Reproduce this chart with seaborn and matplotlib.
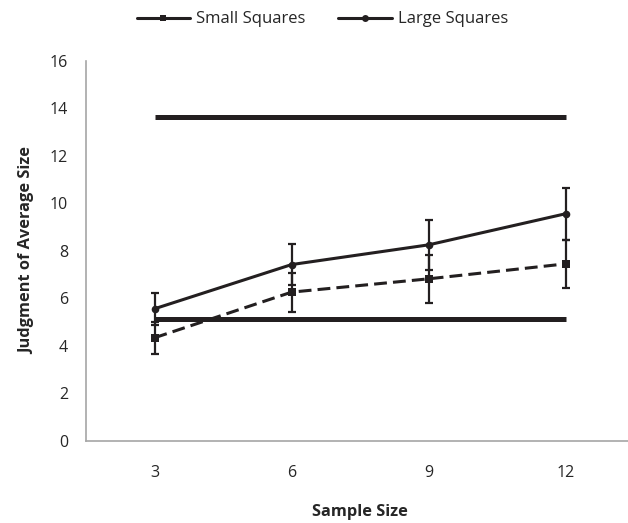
import numpy as np
import pandas as pd
import matplotlib
matplotlib.use("Agg")
import matplotlib.pyplot as plt
from matplotlib.lines import Line2D
import seaborn as sns

# dados
tamanhos = [3, 6, 9, 12]
media_pequenos = [4.34, 6.26, 6.82, 7.45]
erro_pequenos = [0.68, 0.82, 1.00, 1.01]
media_grandes = [5.56, 7.42, 8.25, 9.56]
erro_grandes = [0.67, 0.86, 1.05, 1.09]
linha_pequenos = 5.14
linha_grandes = 13.65
rotulos_y = [0, 2, 4, 6, 8, 10, 12, 14, 16]

df = pd.DataFrame({
    "tamanho": tamanhos * 2,
    "media": media_pequenos + media_grandes,
    "grupo": ["Small Squares"] * 4 + ["Large Squares"] * 4,
})

sns.set_style("white")
plt.rcParams["font.family"] = ["Open Sans", "DejaVu Sans"]
preto = "#231f20"
cinza = "#a6a6a6"

fig = plt.figure(figsize=(6.28, 5.23), dpi=100)
ax = fig.add_axes([0.137, 0.157, 0.873, 0.727])

# linhas horizontais de referência
ax.hlines([linha_grandes, linha_pequenos], tamanhos[0], tamanhos[-1],
          color=preto, lw=3.6, zorder=2)

sns.lineplot(data=df, x="tamanho", y="media", hue="grupo", style="grupo",
             markers={"Small Squares": "s", "Large Squares": "o"},
             dashes={"Small Squares": (4.2, 2.0), "Large Squares": ""},
             palette={"Small Squares": preto, "Large Squares": preto},
             markersize=5.5, markeredgewidth=0, linewidth=2.2,
             legend=False, ax=ax, zorder=3)

ax.errorbar(tamanhos, media_pequenos, yerr=erro_pequenos, fmt="none",
            ecolor=preto, elinewidth=1.6, capsize=3.2, capthick=1.6, zorder=4)
ax.errorbar(tamanhos, media_grandes, yerr=erro_grandes, fmt="none",
            ecolor=preto, elinewidth=1.6, capsize=3.2, capthick=1.6, zorder=4)

ax.set_xlim(1.5, 13.5)
ax.set_ylim(0, 16)
ax.set_yticks(rotulos_y)
ax.set_xticks(tamanhos)
ax.set_xticks([1.5, 4.5, 7.5, 10.5, 13.5], minor=True)
ax.tick_params(axis="x", which="major", length=0, labelsize=11.5, pad=17,
               colors="#262626")
ax.tick_params(axis="x", which="minor", length=5, width=1, color=cinza,
               direction="out")
ax.tick_params(axis="y", length=5, width=1, color=cinza, direction="out",
               labelsize=11.5, labelcolor="#262626", pad=8)

for lado in ["top", "right"]:
    ax.spines[lado].set_visible(False)
for lado in ["left", "bottom"]:
    ax.spines[lado].set_color(cinza)
    ax.spines[lado].set_linewidth(1.2)

ax.set_xlabel("Sample Size", fontsize=11.8, fontweight="bold")
ax.set_ylabel("Judgment of Average Size", fontsize=11.8, fontweight="bold")
ax.xaxis.set_label_coords(274 / 548, -0.166)
ax.yaxis.set_label_coords(-0.093, 0.5)

alcas = [
    Line2D([], [], color=preto, lw=2.2, marker="s", markersize=5, markeredgewidth=0),
    Line2D([], [], color=preto, lw=2.2, marker="o", markersize=5, markeredgewidth=0),
]
fig.legend(alcas, ["Small Squares", "Large Squares"], loc="center",
           bbox_to_anchor=(0.513, 0.963), ncol=2, frameon=False, fontsize=12,
           handlelength=3.2, columnspacing=2.0, handletextpad=0.35)

fig.savefig("out.png", dpi=100)
